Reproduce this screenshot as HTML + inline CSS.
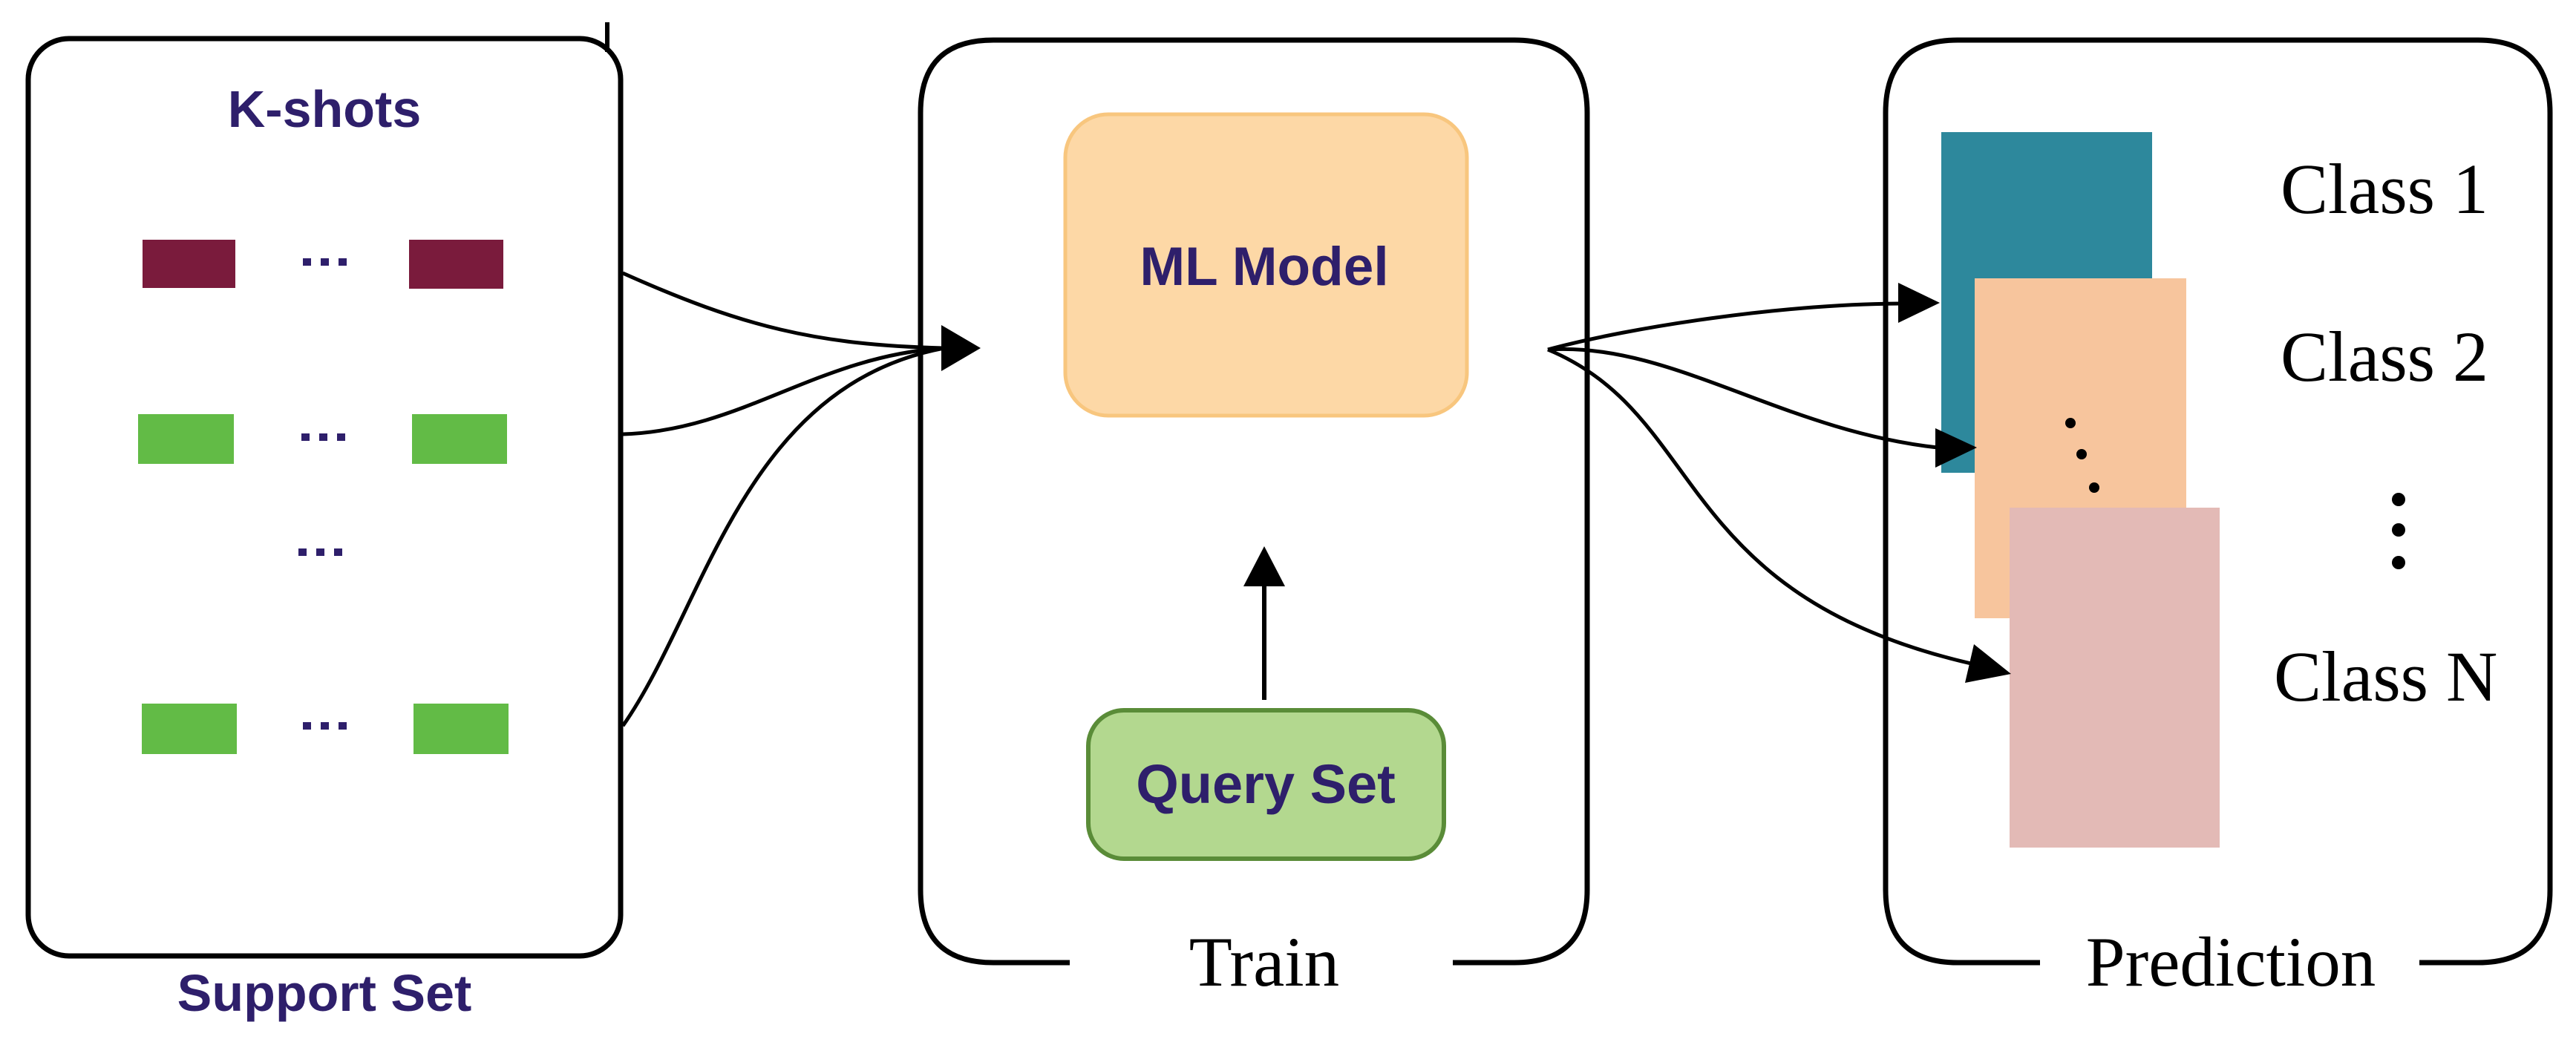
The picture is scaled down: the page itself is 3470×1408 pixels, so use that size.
<!DOCTYPE html>
<html><head><meta charset="utf-8"><style>
html,body{margin:0;padding:0;background:#fff;}
svg{display:block;}
</style></head><body>
<svg width="3470" height="1408" viewBox="0 0 3470 1408" xmlns="http://www.w3.org/2000/svg">
<rect width="3470" height="1408" fill="#fff"/>
<rect x="38" y="52" width="798" height="1236" rx="55" fill="none" stroke="#000" stroke-width="7"/>
<line x1="818" y1="30" x2="818" y2="70" stroke="#000" stroke-width="6"/>
<rect x="192" y="323" width="125" height="65" fill="#7a1b3c"/>
<rect x="551" y="323" width="127" height="66" fill="#7a1b3c"/>
<rect x="186" y="558" width="129" height="67" fill="#62bb46"/>
<rect x="555" y="558" width="128" height="67" fill="#62bb46"/>
<rect x="191" y="948" width="128" height="68" fill="#62bb46"/>
<rect x="557" y="948" width="128" height="68" fill="#62bb46"/>
<g fill="#2e1f6b">
<rect x="408" y="348" width="11" height="10"/><rect x="432" y="348" width="11" height="10"/><rect x="456" y="348" width="11" height="10"/>
<rect x="406" y="584" width="11" height="10"/><rect x="430" y="584" width="11" height="10"/><rect x="454" y="584" width="11" height="10"/>
<rect x="402" y="739" width="11" height="10"/><rect x="426" y="739" width="11" height="10"/><rect x="450" y="739" width="11" height="10"/>
<rect x="408" y="973" width="11" height="10"/><rect x="432" y="973" width="11" height="10"/><rect x="456" y="973" width="11" height="10"/>
</g>
<g fill="none" stroke="#000" stroke-width="5">
<path d="M839,368 C1000,440 1100,465 1272,469"/>
<path d="M839,585 C1000,580 1100,480 1272,469"/>
<path d="M839,978 C950,820 1000,520 1272,469"/>
</g>
<polygon points="1321,469 1268,438 1268,500" fill="#000"/>
<path d="M1441,1297 H1338 Q1240,1297 1240,1199 V152 Q1240,54 1338,54 H2040 Q2138,54 2138,152 V1199 Q2138,1297 2040,1297 H1957" fill="none" stroke="#000" stroke-width="7"/>
<text x="1703" y="1328" font-family="Liberation Serif, Times New Roman, serif" font-size="95" text-anchor="middle" fill="#000">Train</text>
<rect x="1435" y="154" width="541" height="406" rx="58" fill="#fdd8a6" stroke="#f8c67e" stroke-width="5"/>
<rect x="1466" y="957" width="479" height="200" rx="48" fill="#b3d88f" stroke="#5a8c38" stroke-width="6"/>
<line x1="1703" y1="943" x2="1703" y2="785" stroke="#000" stroke-width="6"/>
<polygon points="1703,736 1675,790 1731,790" fill="#000"/>
<g font-family="Liberation Sans, Arial, sans-serif" font-weight="bold" fill="#2e1f6b" text-anchor="middle">
<text x="437" y="171" font-size="70">K-shots</text>
<text x="437" y="1362" font-size="70">Support Set</text>
<text x="1703" y="384" font-size="73">ML Model</text>
<text x="1705" y="1082" font-size="74">Query Set</text>
</g>
<path d="M2748,1297 H2637 Q2540,1297 2540,1199 V152 Q2540,54 2637,54 H3338 Q3435,54 3435,152 V1199 Q3435,1297 3338,1297 H3259" fill="none" stroke="#000" stroke-width="7"/>
<text x="3005" y="1328" font-family="Liberation Serif, Times New Roman, serif" font-size="95" text-anchor="middle" fill="#000">Prediction</text>
<rect x="2615" y="178" width="284" height="459" fill="#2d889c"/>
<rect x="2660" y="375" width="285" height="458" fill="#f7c59d"/>
<rect x="2707" y="684" width="283" height="458" fill="#e3bab6"/>
<g fill="#000">
<circle cx="2789" cy="570" r="7"/><circle cx="2804" cy="612" r="7"/><circle cx="2821" cy="657" r="7"/>
<circle cx="3231" cy="673" r="9"/><circle cx="3231" cy="714" r="9"/><circle cx="3231" cy="758" r="9"/>
</g>
<g font-family="Liberation Serif, Times New Roman, serif" font-size="96" fill="#000">
<text x="3072" y="287">Class 1</text>
<text x="3072" y="513">Class 2</text>
<text x="3063" y="944">Class N</text>
</g>
<g fill="none" stroke="#000" stroke-width="5">
<path d="M2085,471 C2200,440 2400,410 2560,409"/>
<path d="M2085,471 C2250,460 2400,580 2610,603"/>
<path d="M2085,471 C2300,560 2250,800 2655,894"/>
</g>
<g fill="#000">
<polygon points="2613,408 2557,381 2557,435"/>
<polygon points="2663,603 2607,577 2607,630"/>
<polygon points="2709,908 2659,868 2647,920"/>
</g>
</svg>
</body></html>
